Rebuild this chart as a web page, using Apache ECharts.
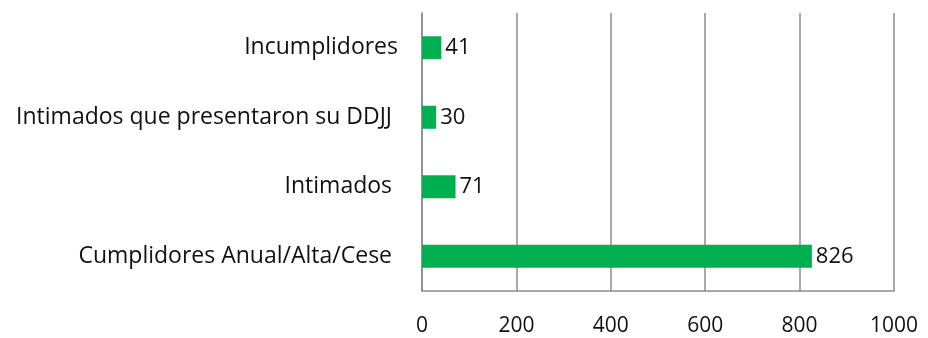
<!DOCTYPE html>
<html>
<head>
<meta charset="utf-8">
<script src="https://cdn.jsdelivr.net/npm/echarts@6/dist/echarts.min.js"></script>
<style>
  html, body { margin: 0; padding: 0; background: #fff; }
  #chart { width: 928px; height: 338px; }
</style>
</head>
<body>
<div id="chart"></div>
<script>
// Categories listed bottom to top (category axis starts at the bottom)
const categories = [
  'Cumplidores Anual/Alta/Cese ',
  'Intimados ',
  'Intimados que presentaron su DDJJ ',
  'Incumplidores'
];
const values = [826, 71, 30, 41];
const xTicks = [0, 200, 400, 600, 800, 1000];

const FONT = '"Open Sans", "Noto Sans", sans-serif';
const chart = echarts.init(document.getElementById('chart'));

chart.setOption({
  animation: false,
  grid: { left: 422, right: 34, top: 13, bottom: 47, containLabel: false },
  xAxis: {
    type: 'value',
    min: xTicks[0],
    max: xTicks[xTicks.length - 1],
    interval: xTicks[1] - xTicks[0],
    axisLine: { show: true, lineStyle: { color: '#8c8c8c', width: 1.5 } },
    axisTick: { show: false },
    splitLine: { show: true, lineStyle: { color: '#8c8c8c', width: 1.5 } },
    axisLabel: {
      color: '#111', fontFamily: FONT, fontSize: 21, margin: 25,
      formatter: v => String(v)
    }
  },
  yAxis: {
    type: 'category',
    data: categories,
    axisLine: { show: true, lineStyle: { color: '#8c8c8c', width: 1.5 } },
    axisTick: { show: false },
    axisLabel: { color: '#111', fontFamily: FONT, fontSize: 23, margin: 24 }
  },
  series: [{
    type: 'bar',
    data: values,
    barWidth: 23,
    itemStyle: { color: '#00b050' },
    label: {
      show: true,
      position: 'right',
      distance: 4,
      color: '#111',
      fontFamily: FONT,
      fontSize: 22
    }
  }]
});
</script>
</body>
</html>
